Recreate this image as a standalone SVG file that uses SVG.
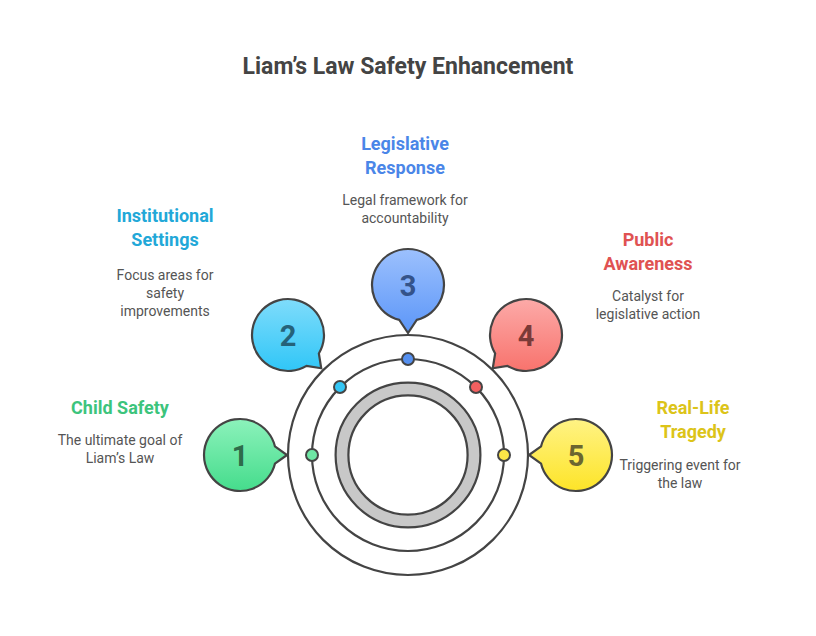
<svg xmlns="http://www.w3.org/2000/svg" width="816" height="636" viewBox="0 0 816 636">
<defs>
<linearGradient id="g1" x1="0" y1="0" x2="0" y2="1"><stop offset="0" stop-color="#8cf2bb"/><stop offset="1" stop-color="#45dc8c"/></linearGradient>
<linearGradient id="g2" x1="0" y1="0" x2="0" y2="1"><stop offset="0" stop-color="#7fdcfb"/><stop offset="1" stop-color="#30c6f7"/></linearGradient>
<linearGradient id="g3" x1="0" y1="0" x2="0" y2="1"><stop offset="0" stop-color="#9cc0fd"/><stop offset="1" stop-color="#5c96f8"/></linearGradient>
<linearGradient id="g4" x1="0" y1="0" x2="0" y2="1"><stop offset="0" stop-color="#fcaaa8"/><stop offset="1" stop-color="#f8736d"/></linearGradient>
<linearGradient id="g5" x1="0" y1="0" x2="0" y2="1"><stop offset="0" stop-color="#fff385"/><stop offset="1" stop-color="#fde428"/></linearGradient>
</defs>
<style>
text{font-family:Roboto,"Liberation Sans",sans-serif;text-anchor:middle}
.t{font-size:23px;font-weight:bold;fill:#444}
.h{font-size:18px;font-weight:bold}
.d{font-size:14px;fill:#555}
.n{font-size:29px;font-weight:bold}
.b{stroke:#444;stroke-width:2.2}
.o{fill:none;stroke:#444;stroke-width:2.2}
</style>
<text class="t" x="408" y="74">Liam’s Law Safety Enhancement</text>
<g id="rings">
<circle class="o" cx="408" cy="455" r="120" fill="#fff" style="fill:#fff"/>
<circle class="o" cx="408" cy="455" r="96"/>
<circle cx="408" cy="455" r="66" fill="none" stroke="#444" stroke-width="15"/>
<circle cx="408" cy="455" r="66" fill="none" stroke="#c8c8c8" stroke-width="10.6"/>
</g>
<g id="dots" stroke="#444" stroke-width="2">
<circle cx="312" cy="455" r="6" fill="#6ee6a4"/>
<circle cx="340" cy="387" r="6" fill="#34c6f5"/>
<circle cx="408" cy="359" r="6" fill="#5590f0"/>
<circle cx="476" cy="387" r="6" fill="#f26060"/>
<circle cx="504" cy="455" r="6" fill="#fde547"/>
</g>
<g id="n1"><path class="b" fill="url(#g1)" d="M287,455 L274.93,463.71 A36 36 0 1 1 274.93,446.29 Z"/><text class="n" x="240" y="466" fill="#2e6b4a">1</text>
<text class="h" x="120" y="414" fill="#3cc47c">Child Safety</text>
<text class="d" x="120" y="445">The ultimate goal of</text><text class="d" x="120" y="463">Liam’s Law</text></g>
<g id="n2"><path class="b" fill="url(#g2)" d="M321.23,368.23 L306.54,365.86 A36 36 0 1 1 318.86,353.54 Z"/><text class="n" x="288" y="346" fill="#25627a">2</text>
<text class="h" x="165" y="222" fill="#22a8d8">Institutional</text><text class="h" x="165" y="246" fill="#22a8d8">Settings</text>
<text class="d" x="165" y="280">Focus areas for</text><text class="d" x="165" y="298">safety</text><text class="d" x="165" y="316">improvements</text></g>
<g id="n3"><path class="b" fill="url(#g3)" d="M408,333 L399.29,319.93 A36 36 0 1 1 416.71,319.93 Z"/><text class="n" x="408" y="296" fill="#34538a">3</text>
<text class="h" x="405" y="150" fill="#4a86e8">Legislative</text><text class="h" x="405" y="174" fill="#4a86e8">Response</text>
<text class="d" x="405" y="205">Legal framework for</text><text class="d" x="405" y="223">accountability</text></g>
<g id="n4"><path class="b" fill="url(#g4)" d="M492.77,368.23 L495.14,353.54 A36 36 0 1 1 507.46,365.86 Z"/><text class="n" x="526" y="346" fill="#7a3a38">4</text>
<text class="h" x="648" y="246" fill="#e05252">Public</text><text class="h" x="648" y="270" fill="#e05252">Awareness</text>
<text class="d" x="648" y="301">Catalyst for</text><text class="d" x="648" y="319">legislative action</text></g>
<g id="n5"><path class="b" fill="url(#g5)" d="M529,455 L541.07,446.29 A36 36 0 1 1 541.07,463.71 Z"/><text class="n" x="576" y="466" fill="#6b6530">5</text>
<text class="h" x="693" y="414" fill="#dcc419">Real-Life</text><text class="h" x="693" y="438" fill="#dcc419">Tragedy</text>
<text class="d" x="680" y="470">Triggering event for</text><text class="d" x="680" y="488">the law</text></g>
</svg>
